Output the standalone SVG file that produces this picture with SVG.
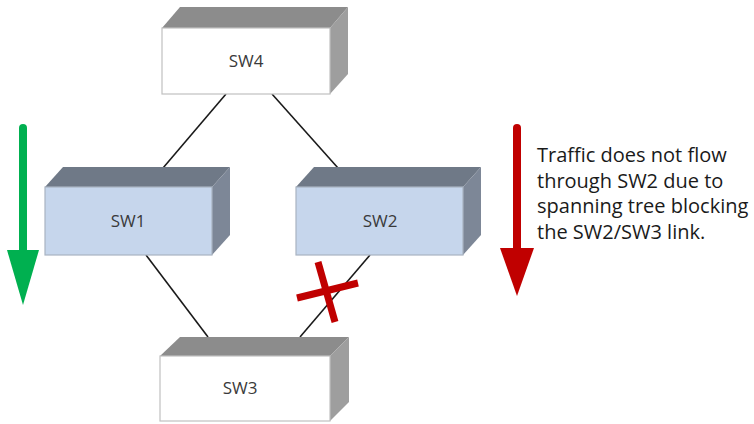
<svg xmlns="http://www.w3.org/2000/svg" width="754" height="424" viewBox="0 0 754 424">
<style>
.lbl{font-family:"Open Sans","Liberation Sans",sans-serif;font-size:17px;fill:#3a3a3a;text-anchor:middle}
.note{font-family:"Open Sans","Liberation Sans",sans-serif;font-size:20px;fill:#1a1a1a}
.link{stroke:#1a1a1a;stroke-width:1.6;fill:none}
.wf{fill:#ffffff;stroke:#c0c0c0;stroke-width:1.2}
.wt{fill:#8c8c8c}
.ws{fill:#9e9e9e}
.bf{fill:#c6d6ec;stroke:#a9b3c2;stroke-width:1.2}
.bt{fill:#6f7987}
.bs{fill:#7d8797}
</style>
<rect width="754" height="424" fill="#ffffff"/>
<g id="connectors">
<line class="link" x1="226" y1="94" x2="163" y2="168"/>
<line class="link" x1="272" y1="94" x2="338" y2="168"/>
<line class="link" x1="146" y1="255" x2="208" y2="337"/>
<line class="link" x1="370" y1="255" x2="300" y2="337"/>
</g>
<g id="SW4">
<polygon class="wt" points="162,28 180,7 348,7 330,28"/>
<polygon class="ws" points="330,28 348,7 348,74 330,94"/>
<rect class="wf" x="162" y="28" width="168" height="66"/>
<text class="lbl" x="246" y="67">SW4</text>
</g>
<g id="SW1">
<polygon class="bt" points="45,187 63,167 230,167 212,187"/>
<polygon class="bs" points="212,187 230,167 230,235 212,255"/>
<rect class="bf" x="45" y="187" width="167" height="68"/>
<text class="lbl" x="128" y="227">SW1</text>
</g>
<g id="SW2">
<polygon class="bt" points="296,187 314,167 481,167 463,187"/>
<polygon class="bs" points="463,187 481,167 481,235 463,255"/>
<rect class="bf" x="296" y="187" width="167" height="68"/>
<text class="lbl" x="380" y="227">SW2</text>
</g>
<g id="SW3">
<polygon class="wt" points="160,356 180,337 349,337 330,356"/>
<polygon class="ws" points="330,356 349,337 349,402 330,421"/>
<rect class="wf" x="160" y="356" width="170" height="65"/>
<text class="lbl" x="240" y="394">SW3</text>
</g>
<g id="block-x">
<line x1="318" y1="262" x2="335" y2="322" stroke="#c00000" stroke-width="7"/>
<line x1="297" y1="298" x2="358" y2="283" stroke="#c00000" stroke-width="7"/>
</g>
<g id="green-arrow">
<line x1="23" y1="128" x2="23" y2="252" stroke="#00b050" stroke-width="8" stroke-linecap="round"/>
<polygon points="7,250 39,250 23,305" fill="#00b050"/>
</g>
<g id="red-arrow">
<line x1="517" y1="128" x2="517" y2="250" stroke="#c00000" stroke-width="8" stroke-linecap="round"/>
<polygon points="500,248 534,248 517,296" fill="#c00000"/>
</g>
<g id="note">
<text class="note" x="537" y="162">Traffic does not flow</text>
<text class="note" x="537" y="188">through SW2 due to</text>
<text class="note" x="537" y="213">spanning tree blocking</text>
<text class="note" x="537" y="239">the SW2/SW3 link.</text>
</g>
</svg>
